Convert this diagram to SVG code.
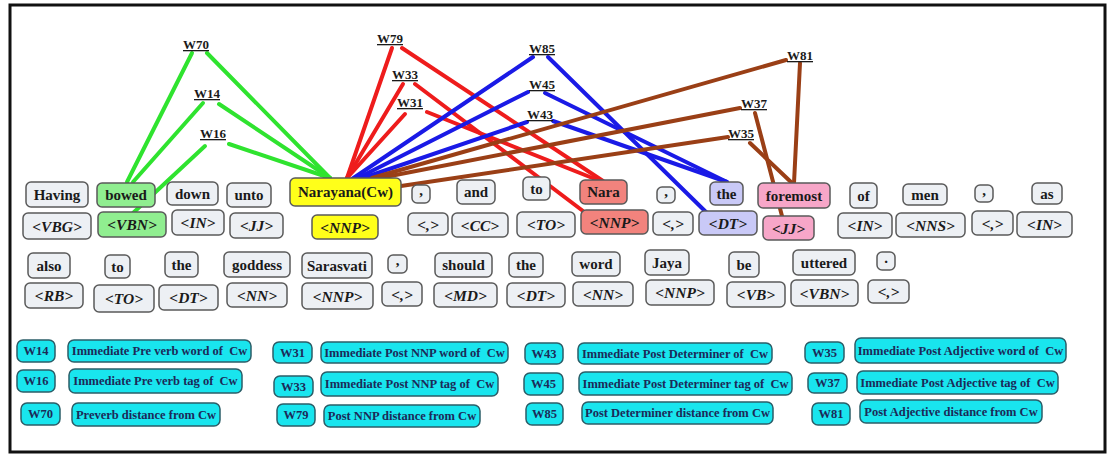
<svg xmlns="http://www.w3.org/2000/svg" width="1109" height="455" viewBox="0 0 1109 455">
  <style>
    .box { stroke: #5a5a5a; stroke-width: 1.5; fill: #edf0f4; }
    .g { fill: #90ee90; }
    .y { fill: #ffff1a; }
    .r { fill: #f2837d; }
    .b { fill: #c9c9f7; }
    .p { fill: #f7a6c8; }
    .wt { font-family: "Liberation Serif", serif; font-weight: bold; font-size: 15px; fill: #1a1a1a; text-anchor: middle; }
    .tt { font-family: "Liberation Serif", serif; font-weight: bold; font-style: italic; font-size: 15.5px; fill: #1a1a1a; text-anchor: middle; }
    .lab { font-family: "Liberation Serif", serif; font-weight: bold; font-size: 13px; fill: #1a1a1a; text-decoration: underline; }
    .leg { fill: #19e5ee; stroke: #2b5e68; stroke-width: 1.5; }
    .lt { font-family: "Liberation Serif", serif; font-weight: bold; font-size: 12.5px; fill: #1c2a58; text-anchor: middle; white-space: pre; }
    .c { stroke-width: 4; stroke-linecap: round; fill: none; }
    .cg { stroke: #2fe32f; }
    .cr { stroke: #ee1c1c; }
    .cb { stroke: #1a1ae6; }
    .cn { stroke: #9a3f16; }
  </style>

  <rect width="1109" height="455" fill="#ffffff"/>
  <rect x="10" y="5" width="1095" height="447" fill="none" stroke="#111111" stroke-width="3"/>

  <!-- feature links -->
  <g id="connectors">
    <line class="c cg" x1="192" y1="53" x2="127" y2="182"/>
    <line class="c cg" x1="207" y1="53" x2="330" y2="178"/>
    <line class="c cg" x1="203" y1="103" x2="133" y2="182"/>
    <line class="c cg" x1="219" y1="104" x2="330" y2="178"/>
    <line class="c cg" x1="205" y1="146" x2="133" y2="213"/>
    <line class="c cg" x1="229" y1="144" x2="330" y2="178"/>

    <line class="c cr" x1="392" y1="48" x2="347" y2="178"/>
    <line class="c cr" x1="402" y1="48" x2="603" y2="181"/>
    <line class="c cr" x1="403" y1="84" x2="347" y2="178"/>
    <line class="c cr" x1="415" y1="84" x2="583" y2="211"/>
    <line class="c cr" x1="405" y1="114" x2="347" y2="178"/>
    <line class="c cr" x1="427" y1="112" x2="600" y2="181"/>

    <line class="c cb" x1="533" y1="57" x2="352" y2="179"/>
    <line class="c cb" x1="548" y1="57" x2="707" y2="213"/>
    <line class="c cb" x1="528" y1="92" x2="356" y2="179"/>
    <line class="c cb" x1="545" y1="93" x2="727" y2="182"/>
    <line class="c cb" x1="527" y1="122" x2="360" y2="179"/>
    <line class="c cb" x1="553" y1="121" x2="727" y2="182"/>

    <line class="c cn" x1="786" y1="60" x2="372" y2="178"/>
    <line class="c cn" x1="800" y1="63" x2="794" y2="183"/>
    <line class="c cn" x1="740" y1="108" x2="380" y2="178"/>
    <line class="c cn" x1="755" y1="113" x2="782" y2="216"/>
    <line class="c cn" x1="728" y1="137" x2="401" y2="186"/>
    <line class="c cn" x1="750" y1="143" x2="792" y2="183"/>
  </g>

  <!-- feature labels -->
  <g id="labels">
    <text class="lab" x="183" y="49">W70</text>
    <text class="lab" x="194" y="98">W14</text>
    <text class="lab" x="200" y="138">W16</text>
    <text class="lab" x="377" y="43">W79</text>
    <text class="lab" x="392" y="79">W33</text>
    <text class="lab" x="397" y="107">W31</text>
    <text class="lab" x="529" y="53">W85</text>
    <text class="lab" x="529" y="89">W45</text>
    <text class="lab" x="527" y="119">W43</text>
    <text class="lab" x="787" y="60">W81</text>
    <text class="lab" x="741" y="108">W37</text>
    <text class="lab" x="728" y="138">W35</text>
  </g>

  <!-- sentence line 1: words -->
  <g id="w-having"><rect class="box" x="26" y="182" width="62" height="25" rx="5"/><text class="wt" x="57" y="199.5">Having</text></g>
  <g id="w-bowed"><rect class="box g" x="97" y="183" width="58" height="24" rx="5"/><text class="wt" x="126" y="200">bowed</text></g>
  <g id="w-down"><rect class="box" x="167" y="182" width="51" height="23" rx="5"/><text class="wt" x="192.5" y="198.5">down</text></g>
  <g id="w-unto"><rect class="box" x="227" y="183" width="44" height="24" rx="5"/><text class="wt" x="249" y="200">unto</text></g>
  <g id="w-narayana"><rect class="box y" x="290" y="178" width="111" height="28" rx="5"/><text class="wt" x="345.5" y="197">Narayana(Cw)</text></g>
  <g id="w-comma1"><rect class="box" x="412" y="185" width="18" height="18" rx="5"/><text class="wt" x="421" y="195">,</text></g>
  <g id="w-and"><rect class="box" x="457" y="180" width="38" height="24" rx="5"/><text class="wt" x="476" y="197">and</text></g>
  <g id="w-to1"><rect class="box" x="523" y="177" width="27" height="23" rx="5"/><text class="wt" x="536.5" y="193.5">to</text></g>
  <g id="w-nara"><rect class="box r" x="580" y="180" width="47" height="24" rx="5"/><text class="wt" x="603.5" y="197">Nara</text></g>
  <g id="w-comma2"><rect class="box" x="657" y="187" width="18" height="16" rx="5"/><text class="wt" x="666" y="196">,</text></g>
  <g id="w-the1"><rect class="box b" x="710" y="182" width="33" height="23" rx="5"/><text class="wt" x="726.5" y="198.5">the</text></g>
  <g id="w-foremost"><rect class="box p" x="758" y="183" width="72" height="25" rx="5"/><text class="wt" x="794" y="200.5">foremost</text></g>
  <g id="w-of"><rect class="box" x="850" y="183" width="27" height="25" rx="5"/><text class="wt" x="863.5" y="200.5">of</text></g>
  <g id="w-men"><rect class="box" x="903" y="184" width="44" height="21" rx="5"/><text class="wt" x="925" y="199.5">men</text></g>
  <g id="w-comma3"><rect class="box" x="975" y="185" width="18" height="17" rx="5"/><text class="wt" x="984" y="194.5">,</text></g>
  <g id="w-as"><rect class="box" x="1032" y="183" width="30" height="21" rx="5"/><text class="wt" x="1047" y="198.5">as</text></g>

  <!-- sentence line 1: tags -->
  <g id="t-having"><rect class="box" x="23" y="213" width="68" height="26" rx="5"/><text class="tt" x="57" y="231.5">&lt;VBG&gt;</text></g>
  <g id="t-bowed"><rect class="box g" x="98" y="212" width="68" height="25" rx="5"/><text class="tt" x="132" y="230">&lt;VBN&gt;</text></g>
  <g id="t-down"><rect class="box" x="172" y="210" width="52" height="25" rx="5"/><text class="tt" x="198" y="228">&lt;IN&gt;</text></g>
  <g id="t-unto"><rect class="box" x="230" y="213" width="53" height="25" rx="5"/><text class="tt" x="256.5" y="231">&lt;JJ&gt;</text></g>
  <g id="t-narayana"><rect class="box y" x="312" y="215" width="66" height="24" rx="5"/><text class="tt" x="345" y="232.5">&lt;NNP&gt;</text></g>
  <g id="t-comma1"><rect class="box" x="408" y="213" width="40" height="22" rx="5"/><text class="tt" x="428" y="229.5">&lt;,&gt;</text></g>
  <g id="t-and"><rect class="box" x="452" y="213" width="56" height="24" rx="5"/><text class="tt" x="480" y="230.5">&lt;CC&gt;</text></g>
  <g id="t-to1"><rect class="box" x="517" y="212" width="58" height="25" rx="5"/><text class="tt" x="546" y="230">&lt;TO&gt;</text></g>
  <g id="t-nara"><rect class="box r" x="581" y="210" width="67" height="24" rx="5"/><text class="tt" x="614.5" y="227.5">&lt;NNP&gt;</text></g>
  <g id="t-comma2"><rect class="box" x="653" y="212" width="40" height="23" rx="5"/><text class="tt" x="673" y="229">&lt;,&gt;</text></g>
  <g id="t-the1"><rect class="box b" x="699" y="211" width="58" height="24" rx="5"/><text class="tt" x="728" y="228.5">&lt;DT&gt;</text></g>
  <g id="t-foremost"><rect class="box p" x="763" y="216" width="51" height="24" rx="5"/><text class="tt" x="788.5" y="233.5">&lt;JJ&gt;</text></g>
  <g id="t-of"><rect class="box" x="838" y="213" width="54" height="25" rx="5"/><text class="tt" x="865" y="231">&lt;IN&gt;</text></g>
  <g id="t-men"><rect class="box" x="896" y="213" width="69" height="24" rx="5"/><text class="tt" x="930.5" y="230.5">&lt;NNS&gt;</text></g>
  <g id="t-comma3"><rect class="box" x="972" y="211" width="41" height="24" rx="5"/><text class="tt" x="992.5" y="228.5">&lt;,&gt;</text></g>
  <g id="t-as"><rect class="box" x="1017" y="212" width="55" height="25" rx="5"/><text class="tt" x="1044.5" y="230">&lt;IN&gt;</text></g>

  <!-- sentence line 2: words -->
  <g id="w-also"><rect class="box" x="28" y="253" width="42" height="25" rx="5"/><text class="wt" x="49" y="270.5">also</text></g>
  <g id="w-to2"><rect class="box" x="105" y="255" width="25" height="23" rx="5"/><text class="wt" x="117.5" y="271.5">to</text></g>
  <g id="w-the2"><rect class="box" x="165" y="252" width="33" height="25" rx="5"/><text class="wt" x="181.5" y="269.5">the</text></g>
  <g id="w-goddess"><rect class="box" x="224" y="252" width="66" height="25" rx="5"/><text class="wt" x="257" y="269.5">goddess</text></g>
  <g id="w-sarasvati"><rect class="box" x="302" y="253" width="70" height="25" rx="5"/><text class="wt" x="337" y="270.5">Sarasvati</text></g>
  <g id="w-comma4"><rect class="box" x="388" y="255" width="19" height="18" rx="5"/><text class="wt" x="397.5" y="265">,</text></g>
  <g id="w-should"><rect class="box" x="435" y="253" width="57" height="24" rx="5"/><text class="wt" x="463.5" y="270">should</text></g>
  <g id="w-the3"><rect class="box" x="509" y="253" width="34" height="24" rx="5"/><text class="wt" x="526" y="270">the</text></g>
  <g id="w-word"><rect class="box" x="572" y="252" width="48" height="24" rx="5"/><text class="wt" x="596" y="269">word</text></g>
  <g id="w-jaya"><rect class="box" x="645" y="250" width="44" height="25" rx="5"/><text class="wt" x="667" y="267.5">Jaya</text></g>
  <g id="w-be"><rect class="box" x="729" y="252" width="30" height="25" rx="5"/><text class="wt" x="744" y="269.5">be</text></g>
  <g id="w-uttered"><rect class="box" x="793" y="250" width="62" height="25" rx="5"/><text class="wt" x="824" y="267.5">uttered</text></g>
  <g id="w-period"><rect class="box" x="877" y="252" width="18" height="18" rx="5"/><text class="wt" x="886" y="263">.</text></g>

  <!-- sentence line 2: tags -->
  <g id="t-also"><rect class="box" x="25" y="283" width="58" height="25" rx="5"/><text class="tt" x="54" y="301">&lt;RB&gt;</text></g>
  <g id="t-to2"><rect class="box" x="94" y="285" width="60" height="27" rx="5"/><text class="tt" x="124" y="304">&lt;TO&gt;</text></g>
  <g id="t-the2"><rect class="box" x="159" y="285" width="59" height="25" rx="5"/><text class="tt" x="188.5" y="303">&lt;DT&gt;</text></g>
  <g id="t-goddess"><rect class="box" x="227" y="283" width="60" height="24" rx="5"/><text class="tt" x="257" y="300.5">&lt;NN&gt;</text></g>
  <g id="t-sarasvati"><rect class="box" x="302" y="283" width="71" height="26" rx="5"/><text class="tt" x="337.5" y="301.5">&lt;NNP&gt;</text></g>
  <g id="t-comma4"><rect class="box" x="382" y="282" width="40" height="24" rx="5"/><text class="tt" x="402" y="299.5">&lt;,&gt;</text></g>
  <g id="t-should"><rect class="box" x="434" y="283" width="63" height="24" rx="5"/><text class="tt" x="465.5" y="300.5">&lt;MD&gt;</text></g>
  <g id="t-the3"><rect class="box" x="507" y="283" width="58" height="24" rx="5"/><text class="tt" x="536" y="300.5">&lt;DT&gt;</text></g>
  <g id="t-word"><rect class="box" x="573" y="282" width="60" height="24" rx="5"/><text class="tt" x="603" y="299.5">&lt;NN&gt;</text></g>
  <g id="t-jaya"><rect class="box" x="646" y="280" width="68" height="25" rx="5"/><text class="tt" x="680" y="298">&lt;NNP&gt;</text></g>
  <g id="t-be"><rect class="box" x="727" y="282" width="58" height="25" rx="5"/><text class="tt" x="756" y="300">&lt;VB&gt;</text></g>
  <g id="t-uttered"><rect class="box" x="791" y="280" width="67" height="26" rx="5"/><text class="tt" x="824.5" y="298.5">&lt;VBN&gt;</text></g>
  <g id="t-period"><rect class="box" x="868" y="280" width="41" height="23" rx="5"/><text class="tt" x="888.5" y="297">&lt;,&gt;</text></g>

  <!-- legend -->
  <g id="legend-w14"><rect class="leg" x="17" y="340" width="38" height="22" rx="6"/><text class="lt" x="36" y="355">W14</text><rect class="leg" x="68" y="340" width="183" height="22" rx="6"/><text class="lt" x="159.5" y="355">Immediate Pre verb word of  Cw</text></g>
  <g id="legend-w16"><rect class="leg" x="17" y="370" width="38" height="22" rx="6"/><text class="lt" x="36" y="385">W16</text><rect class="leg" x="69" y="369" width="173" height="24" rx="6"/><text class="lt" x="155.5" y="385">Immediate Pre verb tag of  Cw</text></g>
  <g id="legend-w70"><rect class="leg" x="21" y="403" width="39" height="22" rx="6"/><text class="lt" x="40.5" y="418">W70</text><rect class="leg" x="72" y="403" width="148" height="23" rx="6"/><text class="lt" x="146" y="418.5">Preverb distance from Cw</text></g>

  <g id="legend-w31"><rect class="leg" x="273" y="342" width="39" height="21" rx="6"/><text class="lt" x="292.5" y="356.5">W31</text><rect class="leg" x="321" y="342" width="187" height="21" rx="6"/><text class="lt" x="414.5" y="356.5">Immediate Post NNP word of  Cw</text></g>
  <g id="legend-w33"><rect class="leg" x="274" y="376" width="39" height="21" rx="6"/><text class="lt" x="293.5" y="390.5">W33</text><rect class="leg" x="321" y="372" width="177" height="24" rx="6"/><text class="lt" x="409.5" y="388">Immediate Post NNP tag of  Cw</text></g>
  <g id="legend-w79"><rect class="leg" x="277" y="404" width="38" height="22" rx="6"/><text class="lt" x="296" y="419">W79</text><rect class="leg" x="324" y="405" width="156" height="22" rx="6"/><text class="lt" x="402" y="420">Post NNP distance from Cw</text></g>

  <g id="legend-w43"><rect class="leg" x="525" y="343" width="38" height="21" rx="6"/><text class="lt" x="544" y="357.5">W43</text><rect class="leg" x="578" y="343" width="194" height="21" rx="6"/><text class="lt" x="675" y="357.5">Immediate Post Determiner of  Cw</text></g>
  <g id="legend-w45"><rect class="leg" x="524" y="373" width="39" height="22" rx="6"/><text class="lt" x="543.5" y="388">W45</text><rect class="leg" x="579" y="372" width="213" height="23" rx="6"/><text class="lt" x="685.5" y="387.5">Immediate Post Determiner tag of  Cw</text></g>
  <g id="legend-w85"><rect class="leg" x="526" y="403" width="37" height="22" rx="6"/><text class="lt" x="544.5" y="418">W85</text><rect class="leg" x="582" y="402" width="191" height="22" rx="6"/><text class="lt" x="677.5" y="417">Post Determiner distance from Cw</text></g>

  <g id="legend-w35"><rect class="leg" x="805" y="342" width="39" height="21" rx="6"/><text class="lt" x="824.5" y="356.5">W35</text><rect class="leg" x="855" y="338" width="211" height="25" rx="6"/><text class="lt" x="960.5" y="354.5">Immediate Post Adjective word of  Cw</text></g>
  <g id="legend-w37"><rect class="leg" x="808" y="373" width="39" height="20" rx="6"/><text class="lt" x="827.5" y="387">W37</text><rect class="leg" x="857" y="371" width="201" height="23" rx="6"/><text class="lt" x="957.5" y="386.5">Immediate Post Adjective tag of  Cw</text></g>
  <g id="legend-w81"><rect class="leg" x="812" y="403" width="38" height="22" rx="6"/><text class="lt" x="831" y="418">W81</text><rect class="leg" x="860" y="400" width="182" height="23" rx="6"/><text class="lt" x="951" y="415.5">Post Adjective distance from Cw</text></g>
</svg>
